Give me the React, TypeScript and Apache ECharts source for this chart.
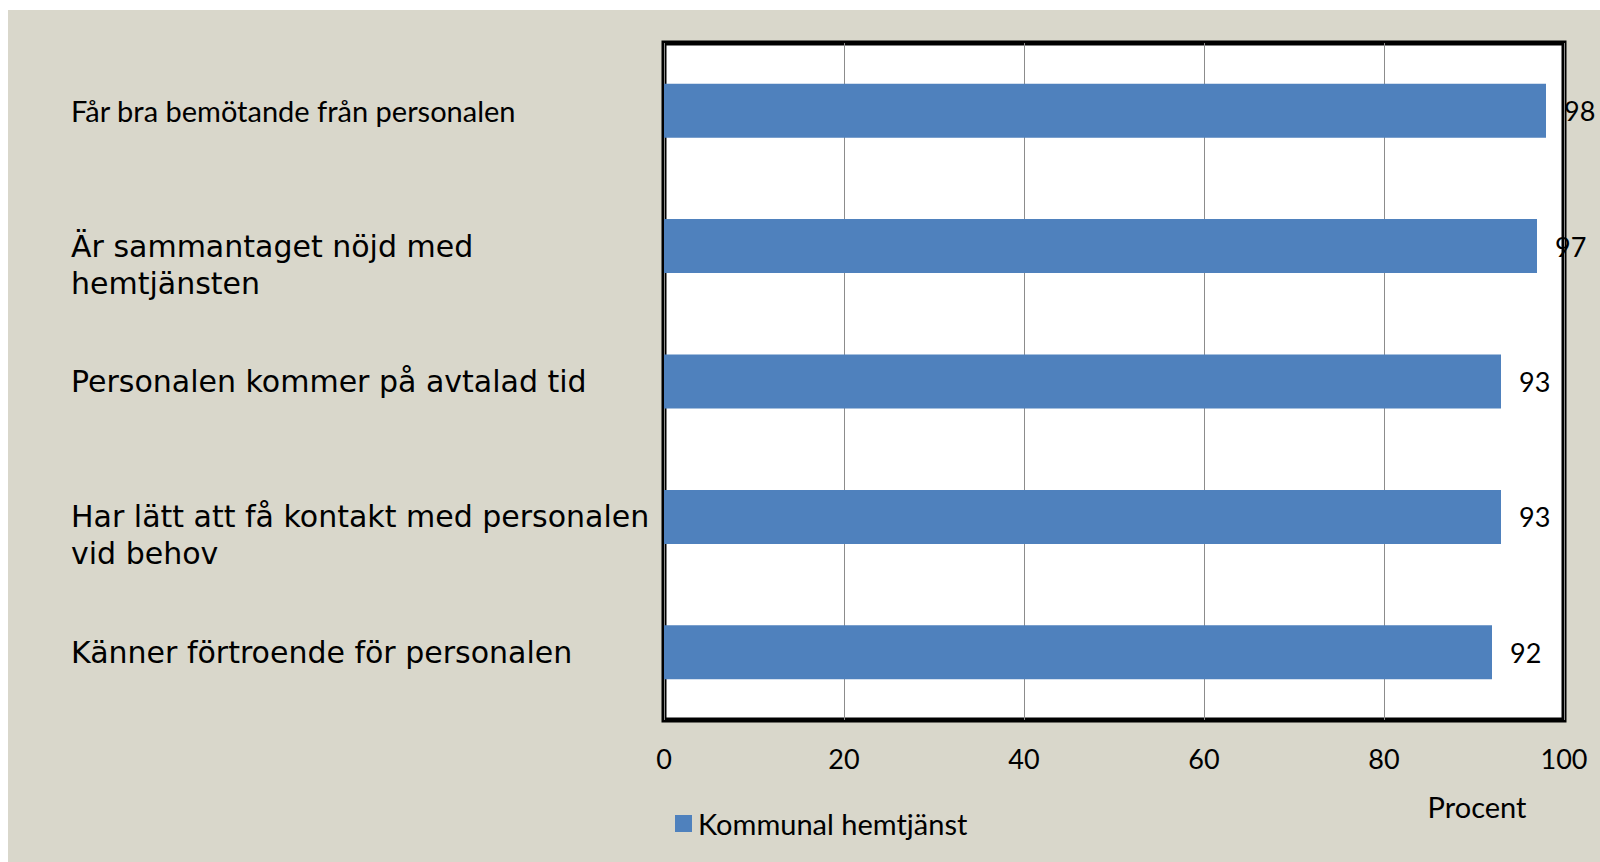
import React, { useEffect, useRef } from "react";
import * as echarts from "echarts";

const categories = [
  "Får bra bemötande från personalen",
  "Är sammantaget nöjd med\nhemtjänsten",
  "Personalen kommer på avtalad tid",
  "Har lätt att få kontakt med personalen\nvid behov",
  "Känner förtroende för personalen",
];
const values = [98, 97, 93, 93, 92];
const seriesName = "Kommunal hemtjänst";
const axisTitle = "Procent";
const xMin = 0;
const xMax = 100;
const xInterval = 20;

export default function App() {
  const ref = useRef<HTMLDivElement>(null);
  useEffect(() => {
    const chart = echarts.init(ref.current!, null, { renderer: "svg" });
    chart.setOption({
      animation: false,
      backgroundColor: "#D9D7CB",
      grid: {
        left: 656,
        top: 33,
        right: 36,
        bottom: 142,
        show: true,
        backgroundColor: "#FFFFFF",
        borderColor: "#000000",
        borderWidth: 5,
        containLabel: false,
      },
      legend: {
        left: 662,
        top: 794,
        itemWidth: 17,
        itemHeight: 17,
        icon: "rect",
        textStyle: { fontFamily: "Lato", fontSize: 29, color: "#000", padding: [0, 0, 0, 1] },
        data: [seriesName],
      },
      xAxis: {
        type: "value",
        min: xMin,
        max: xMax,
        interval: xInterval,
        axisLine: { show: false },
        axisTick: { show: false },
        splitLine: { show: true, lineStyle: { color: "#8C8C8C", width: 1 } },
        axisLabel: { fontFamily: "Lato", fontSize: 27, color: "#000", margin: 25 },
      },
      yAxis: {
        type: "category",
        inverse: true,
        data: categories,
        axisLine: { show: false },
        axisTick: { show: false },
        splitLine: { show: false },
        axisLabel: {
          interval: 0,
          align: "left",
          margin: 593,
          formatter: (v: string, i: number) => {
            if (i === 0) return `{a|${v}}`;
            const lines = v.split("\n");
            const body = lines.map((l) => `{b|${l}}`).join("\n");
            return lines.length > 1 ? `{b| }\n${body}` : body;
          },
          rich: {
            a: { fontFamily: "Lato", fontSize: 29, color: "#000", lineHeight: 37 },
            b: { fontFamily: "DejaVu Sans", fontSize: 30, color: "#000", lineHeight: 37 },
          },
        },
      },
      graphic: [
        {
          type: "text",
          x: 1469,
          y: 796,
          style: {
            text: axisTitle,
            fontFamily: "Lato",
            fontSize: 29,
            fill: "#000",
            textAlign: "center",
            textVerticalAlign: "middle",
          },
        },
      ],
      series: [
        {
          name: seriesName,
          type: "bar",
          data: values,
          barWidth: 54,
          itemStyle: { color: "#4F81BD" },
          label: {
            show: true,
            position: "right",
            distance: 18,
            fontFamily: "Lato",
            fontSize: 27,
            color: "#000",
          },
        },
      ],
    });
    return () => chart.dispose();
  }, []);
  return (
    <div
      ref={ref}
      style={{ position: "absolute", left: 8, top: 10, width: 1592, height: 852 }}
    />
  );
}
